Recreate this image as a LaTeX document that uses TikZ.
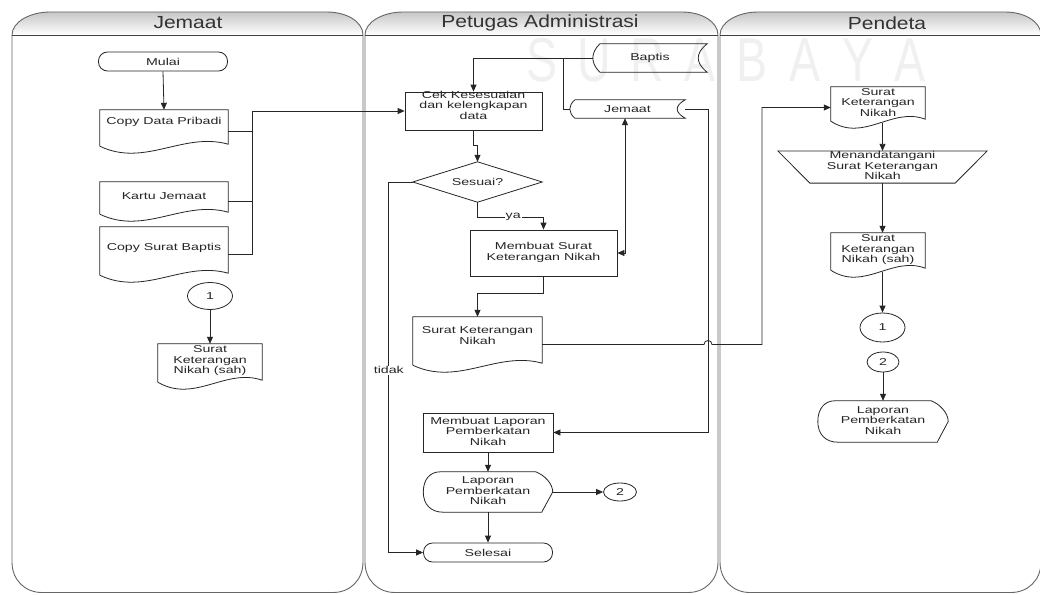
\documentclass[tikz,border=0pt]{standalone}
\usepackage{fontspec}
\setmainfont{Liberation Sans}[FakeStretch=1.42]
\newfontfamily\hdrfont{Liberation Sans}[FakeStretch=1.2]
\newfontfamily\wmfont{Liberation Sans}[FakeStretch=0.75]
\usetikzlibrary{arrows.meta,calc,shapes.geometric}
\newcommand\bodyfont{\fontsize{10}{10.6}\selectfont}
\newcommand\tx[2][0]{\raisebox{#1pt}[\height][\depth]{\begin{tabular}{@{}c@{}}#2\end{tabular}}}
\tikzset{
  lane/.style={draw=black!60, line width=0.9pt},
  hline/.style={draw=black!75, line width=0.9pt},
  shp/.style={draw=black!85, line width=0.8pt},
  ghost/.style={rectangle, draw=none, inner sep=0pt, font=\bodyfont, text=black!85},
  box/.style={ghost, shp},
  term/.style={ghost, shp, rounded corners=9pt},
  conn/.style={ellipse, shp, inner sep=0pt, font=\bodyfont, text=black!85},
  ln/.style={draw=black!85, line width=0.8pt},
  arr/.style={ln, -{Triangle[length=7pt,width=6pt]}},
  darr/.style={ln, {Triangle[length=7pt,width=6pt]}-{Triangle[length=7pt,width=6pt]}},
  lbl/.style={fill=white, inner sep=1pt, font=\bodyfont, text=black!85},
  hdr/.style={font=\hdrfont\fontsize{17.5}{20}\selectfont, text=black!80},
  wm/.style={font=\wmfont\fontsize{62}{62}\selectfont, text=black!6, inner sep=0pt},
}
% lane outline
\newcommand\lanebox[2]{%
  \shade[top color=black!22, bottom color=white]
    (#1,35) .. controls (#1,22) and (#1+18,12) .. (#1+38,12) -- (#2-36,12)
    .. controls (#2-16,12) and (#2,22) .. (#2,35) -- cycle;
  \draw[lane] (#1,35) .. controls (#1,22) and (#1+18,12) .. (#1+38,12) -- (#2-36,12)
    .. controls (#2-16,12) and (#2,22) .. (#2,35) -- (#2,562)
    .. controls (#2,580) and (#2-13,592.5) .. (#2-30,592.5) -- (#1+30,592.5)
    .. controls (#1+13,592.5) and (#1,580) .. (#1,562) -- cycle;
  \draw[hline] (#1,35) -- (#2,35);}
% document shape
\newcommand\docshape[1]{%
  \draw[shp] let \p1=(#1.south west), \p2=(#1.south east), \n1={0.35*(\x2-\x1)} in
    ([yshift=7pt]#1.south west) -- (#1.north west) -- (#1.north east) -- ([yshift=9pt]#1.south east)
    .. controls +(-\n1,12.65pt) and +(\n1,-21.5pt) .. ([yshift=7pt]#1.south west);}
% stored data shape: name, inset, kL, kR, h/3
\newcommand\storeshape[5]{%
  \draw[shp] ([xshift=#2pt]#1.north west) -- (#1.north east)
    .. controls +(-#4pt,-#5pt) and +(-#4pt,#5pt) .. (#1.south east)
    -- ([xshift=#2pt]#1.south west)
    .. controls +(-#3pt,#5pt) and +(-#3pt,-#5pt) .. ([xshift=#2pt]#1.north west) -- cycle;}
% display shape
\newcommand\dispshape[1]{%
  \draw[shp] ([xshift=17pt]#1.north west) -- ([xshift=-17pt]#1.north east)
    .. controls +(8pt,-3pt) and +(0pt,9pt) .. (#1.east)
    -- ([xshift=-11pt]#1.south east) -- ([xshift=20pt]#1.south west)
    .. controls +(-12pt,0pt) and +(0pt,-13pt) .. (#1.west)
    .. controls +(0pt,13pt) and +(-10pt,0pt) .. ([xshift=17pt]#1.north west) -- cycle;}
\begin{document}
\begin{tikzpicture}[x=1pt,y=-1pt]
\useasboundingbox (0,0) rectangle (1040,594);
\clip (0,0) rectangle (1040,594);
\fill[white] (0,0) rectangle (1040,594);

% lanes
\lanebox{12}{363}
\lanebox{365}{718}
\lanebox{720}{1041}
\node[hdr] (h1) at (188,23) {Jemaat};
\node[hdr] (h2) at (540,23) {Petugas Administrasi};
\node[hdr] (h3) at (887,23) {Pendeta};

% watermark
\foreach \ch [count=\i] in {S,U,R,A,B,A,Y,A}
  \node[wm] (wm\i) at ({542+52.6*(\i-1)},60) {\ch};

% ---- Jemaat lane
\node[term, minimum width=129pt, minimum height=19pt] (mulai) at (163,61.5) {Mulai};
\node[ghost, minimum width=128pt, minimum height=43pt] (cdp) at (164,131.5) {\tx[9.5]{Copy Data Pribadi}};
\docshape{cdp}
\node[ghost, minimum width=128pt, minimum height=39pt] (kj) at (164,201.5) {\tx[4.5]{Kartu Jemaat}};
\docshape{kj}
\node[ghost, minimum width=128pt, minimum height=55pt] (csb) at (164,254.5) {\tx[6.5]{Copy Surat Baptis}};
\docshape{csb}
\node[conn, minimum width=45pt, minimum height=27pt] (c1a) at (210,296) {1};
\node[ghost, minimum width=104pt, minimum height=45pt] (sknsah1) at (210,366.5) {\tx[5.5]{Surat\\Keterangan\\Nikah (sah)}};
\docshape{sknsah1}

% ---- Petugas Administrasi lane
\node[ghost, minimum width=114pt, minimum height=28pt] (baptis) at (650,58) {Baptis};
\storeshape{baptis}{7}{9.3}{12}{9.3}
\node[box, minimum width=137pt, minimum height=38pt] (cek) at (473.5,111) {\tx[4.5]{Cek Kesesuaian\\dan kelengkapan\\data}};
\node[ghost, minimum width=115pt, minimum height=18pt] (jemaatdb) at (627.5,109) {Jemaat};
\storeshape{jemaatdb}{5}{6.7}{10.7}{6}
\node[ghost, minimum width=129pt, minimum height=40pt] (sesuai) at (477.5,182) {Sesuai?};
\draw[shp] (sesuai.north) -- (sesuai.east) -- (sesuai.south) -- (sesuai.west) -- cycle;
\node[box, minimum width=147pt, minimum height=46pt] (msk) at (543.5,253) {\tx{Membuat Surat\\Keterangan Nikah}};
\node[ghost, minimum width=129pt, minimum height=55pt] (skn2) at (477.5,344.5) {\tx[7.5]{Surat Keterangan\\Nikah}};
\docshape{skn2}
\node[box, minimum width=130pt, minimum height=39pt] (mlp) at (488,432.5) {\tx{Membuat Laporan\\Pemberkatan\\Nikah}};
\node[ghost, minimum width=129pt, minimum height=40pt] (lpn2) at (488,492) {\tx{Laporan\\Pemberkatan\\Nikah}};
\dispshape{lpn2}
\node[conn, minimum width=33pt, minimum height=18pt] (c2a) at (620,492) {2};
\node[term, minimum width=129pt, minimum height=19pt] (selesai) at (488,552.5) {Selesai};

% ---- Pendeta lane
\node[ghost, minimum width=94pt, minimum height=41pt] (skn3) at (878,107.5) {\tx[4]{Surat\\Keterangan\\Nikah}};
\docshape{skn3}
\node[ghost, minimum width=209pt, minimum height=30pt] (mtd) at (882.5,167) {\tx{Menandatangani\\Surat Keterangan\\Nikah}};
\draw[shp] (mtd.north west) -- (mtd.north east) -- ([xshift=-32pt]mtd.south east) -- ([xshift=32pt]mtd.south west) -- cycle;
\node[ghost, minimum width=94pt, minimum height=44pt] (sknsah3) at (878,255) {\tx[5]{Surat\\Keterangan\\Nikah (sah)}};
\docshape{sknsah3}
\node[conn, minimum width=45pt, minimum height=29pt] (c1b) at (882.5,327.5) {1};
\node[conn, minimum width=32pt, minimum height=20pt] (c2b) at (883,362) {2};
\node[ghost, minimum width=130pt, minimum height=41pt] (lpn3) at (883,421.5) {\tx{Laporan\\Pemberkatan\\Nikah}};
\dispshape{lpn3}

% ---- connectors
\coordinate (bx) at (252,0);
\coordinate (jx) at (563,0);
\coordinate (rx) at (708,0);
\coordinate (bx3) at (762,0);

\draw[arr] (mulai.south) -- (cdp.north);
\draw[ln] (cdp.east) -- (cdp.east -| bx);
\draw[ln] (kj.east) -- (kj.east -| bx);
\draw[arr] (csb.east) -| (bx |- cek.west) -- (cek.west);
\draw[arr] (c1a.south) -- (sknsah1.north);

\draw[arr] (baptis.west) -| (cek.north);
\draw[ln] (jemaatdb.west) -| (jx |- baptis.west);
\draw[arr] (jemaatdb.east) -| (rx |- mlp.east) -- (mlp.east);
\draw[darr] ([xshift=-2.5pt]jemaatdb.south) |- (msk.east);
\draw[arr] (cek.south) -- ++(0,15) -| (sesuai.north);
\draw[arr] (sesuai.south) -- ++(0,15) -| node[lbl, pos=0.27] (ya) {ya} (msk.north);
\draw[arr] (sesuai.west) -- ++(-24,0) |- node[lbl, pos=0.254] (tidak) {tidak} (selesai.west);
\draw[arr] (msk.south) -- ++(0,17) -| (skn2.north);
\draw[arr] (skn2.east) -- ($(rx |- skn2.east)+(-4pt,0pt)$)
  .. controls +(0pt,5.3pt) and +(0pt,5.3pt) .. ($(rx |- skn2.east)+(4pt,0pt)$)
  -| (bx3 |- skn3.west) -- (skn3.west);
\draw[arr] (mlp.south) -- (lpn2.north);
\draw[arr] (lpn2.east) -- (c2a.west);
\draw[arr] (lpn2.south) -- (selesai.north);

\draw[arr] ($(skn3.south -| mtd.north)+(0pt,5pt)$) -- (mtd.north);
\draw[arr] (mtd.south) -- (mtd.south |- sknsah3.north);
\draw[arr] ($(sknsah3.south -| c1b.north)+(0pt,5pt)$) -- (c1b.north);
\draw[arr] (c2b.south) -- (lpn3.north);
\end{tikzpicture}
\end{document}
